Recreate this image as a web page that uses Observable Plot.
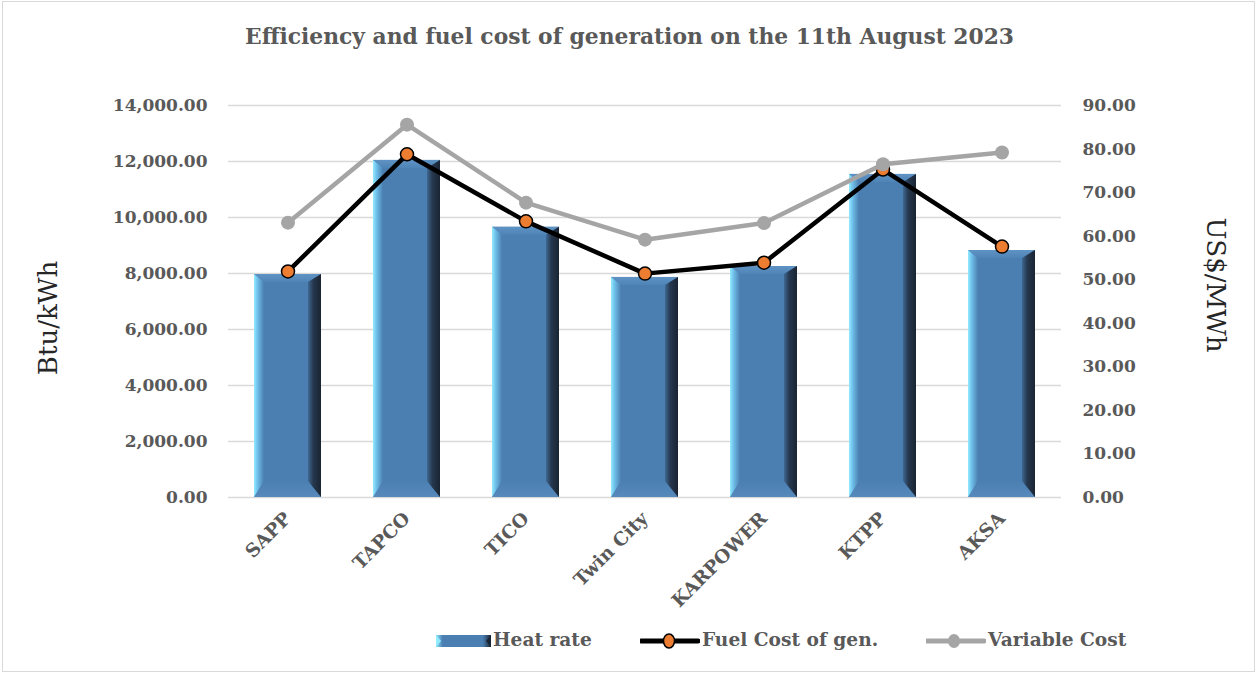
<!DOCTYPE html>
<html><head><meta charset="utf-8">
<script src="https://cdn.jsdelivr.net/npm/d3@7"></script>
<script src="https://cdn.jsdelivr.net/npm/@observablehq/plot@0.6"></script>
<style>
body{margin:0;background:#fff;}
#wrap{position:relative;width:1259px;height:677px;overflow:hidden;font-family:"DejaVu Serif",serif;background:#fff;}
#border{position:absolute;left:2px;top:1px;width:1251px;height:669px;border:1.5px solid #D9D9D9;}
#title{position:absolute;left:0;top:24px;width:1259px;text-align:center;font-weight:bold;font-size:21.8px;color:#595959;}
#chart{position:absolute;left:0;top:0;}
#ylab{position:absolute;left:48px;top:318px;transform:translate(-50%,-50%) rotate(-90deg);font-size:26px;color:#262626;white-space:nowrap;}
#y2lab{position:absolute;left:1216px;top:285px;transform:translate(-50%,-50%) rotate(90deg);font-size:26px;color:#262626;white-space:nowrap;}
.leg{position:absolute;top:629px;font-weight:bold;font-size:18.6px;color:#595959;white-space:nowrap;}
.sw{position:absolute;}
</style></head><body>
<div id="wrap">
  <div id="border"></div>
  <div id="title">Efficiency and fuel cost of generation on the 11th August 2023</div>
  <div id="chart"></div>
  <div id="ylab">Btu/kWh</div>
  <div id="y2lab">US$/MWh</div>
  <svg class="sw" style="left:436px;top:634px" width="56" height="14">
    <defs>
      <linearGradient id="lgH" x1="0" x2="1" y1="0" y2="0">
        <stop offset="0" stop-color="#8DE9FF"/><stop offset="0.12" stop-color="#4B7FB2"/>
        <stop offset="0.85" stop-color="#4B7FB2"/><stop offset="1" stop-color="#1B2636"/>
      </linearGradient>
    </defs>
    <rect x="0" y="1" width="55" height="12" fill="url(#lgH)"/>
    <polygon points="0,1 5,7 0,13" fill="#92ECFF"/>
    <polygon points="55,1 50,7 55,13" fill="#1A2432"/>
  </svg>
  <div class="leg" style="left:493px">Heat rate</div>
  <svg class="sw" style="left:640px;top:631px" width="60" height="20">
    <line x1="1" x2="58" y1="10" y2="10" stroke="#000" stroke-width="5" stroke-linecap="round"/>
    <ellipse cx="29" cy="10" rx="5.5" ry="7" fill="#ED7D31" stroke="#000" stroke-width="1.5"/>
  </svg>
  <div class="leg" style="left:702px">Fuel Cost of gen.</div>
  <svg class="sw" style="left:926px;top:631px" width="60" height="20">
    <line x1="1" x2="58" y1="10" y2="10" stroke="#A5A5A5" stroke-width="5" stroke-linecap="round"/>
    <ellipse cx="28" cy="10" rx="6" ry="7" fill="#A5A5A5"/>
  </svg>
  <div class="leg" style="left:988px">Variable Cost</div>
</div>
<script>
const plants = ["SAPP", "TAPCO", "TICO", "Twin City", "KARPOWER", "KTPP", "AKSA"];
const heatRate = [7960, 12040, 9650, 7860, 8250, 11540, 8820];
const fuelCost = [51.9, 78.8, 63.4, 51.4, 53.9, 75.3, 57.6];
const variableCost = [63.1, 85.6, 67.7, 59.2, 63.0, 76.5, 79.2];
const leftTicks = [0, 2000, 4000, 6000, 8000, 10000, 12000, 14000];
const rightTicks = [0, 10, 20, 30, 40, 50, 60, 70, 80, 90];
const leftMax = 14000, rightMax = 90;
const k = leftMax / rightMax;

const rows = plants.map((p, i) => ({plant: p, heat: heatRate[i], fuel: fuelCost[i], variable: variableCost[i]}));

function bevelRender(index, scales, values, dimensions, context, next) {
  const g = next(index, scales, values, dimensions, context);
  const rects = Array.from(g.querySelectorAll("rect"));
  const out = d3.create("svg:g");
  const defs = out.append("defs");
  const grad = (id, x2, y2, stops) => {
    const lg = defs.append("linearGradient").attr("id", id).attr("x1", 0).attr("y1", 0).attr("x2", x2).attr("y2", y2);
    stops.forEach(([o, c]) => lg.append("stop").attr("offset", o).attr("stop-color", c));
  };
  grad("bvL", 1, 0, [[0, "#92ECFF"], [0.35, "#6FC0EA"], [1, "#4B7FB2"]]);
  grad("bvR", 1, 0, [[0, "#3E6892"], [0.4, "#26384F"], [1, "#1A2432"]]);
  grad("bvT", 0, 1, [[0, "#5F93C4"], [1, "#4F84B7"]]);
  grad("bvB", 0, 1, [[0, "#4B7FB2"], [1, "#5789BB"]]);
  const bl = 10, br = 13, bt = 8, bb = 16;
  for (const r of rects) {
    const x = +r.getAttribute("x"), y = +r.getAttribute("y");
    const w = +r.getAttribute("width"), h = +r.getAttribute("height");
    const bar = out.append("g");
    bar.append("rect").attr("x", x).attr("y", y).attr("width", w).attr("height", h).attr("fill", "#4B7FB2");
    const poly = (pts, fill) => bar.append("polygon").attr("points", pts.map(p => p.join(",")).join(" ")).attr("fill", fill);
    poly([[x, y], [x + w, y], [x + w - br, y + bt], [x + bl, y + bt]], "url(#bvT)");
    poly([[x, y + h], [x + bl, y + h - bb], [x + w - br, y + h - bb], [x + w, y + h]], "url(#bvB)");
    poly([[x, y], [x + bl, y + bt], [x + bl, y + h - bb], [x, y + h]], "url(#bvL)");
    poly([[x + w, y], [x + w - br, y + bt], [x + w - br, y + h - bb], [x + w, y + h]], "url(#bvR)");
  }
  return out.node();
}

const chart = Plot.plot({
  width: 1259,
  height: 620,
  marginTop: 105,
  marginBottom: 123,
  marginLeft: 228,
  marginRight: 198,
  style: {fontFamily: "DejaVu Serif", fontSize: "17px", fontWeight: "bold", color: "#595959", background: "transparent"},
  x: {domain: plants, paddingInner: 0.44, paddingOuter: 0.22, label: null},
  y: {domain: [0, leftMax], label: null},
  marks: [
    Plot.gridY(leftTicks, {stroke: "#D9D9D9", strokeOpacity: 1, strokeWidth: 1.5}),
    Plot.barY(rows, {x: "plant", y: "heat", fill: "#4B7FB2", render: bevelRender}),
    Plot.axisY(leftTicks, {anchor: "left", tickSize: 0, tickPadding: 21, tickFormat: d => d3.format(",.2f")(d), label: null, fill: "#595959"}),
    Plot.axisY(rightTicks.map(v => v * k), {anchor: "right", tickSize: 0, tickPadding: 21, tickFormat: d => (d / k).toFixed(2), label: null, fill: "#595959"}),
    Plot.axisX(plants, {anchor: "bottom", tickSize: 0, tickPadding: 18, tickRotate: -45, label: null, fontSize: 18.5, fill: "#595959"}),
    Plot.line(rows, {x: "plant", y: d => d.fuel * k, stroke: "#000", strokeWidth: 4.5, strokeLinejoin: "round", strokeLinecap: "round"}),
    Plot.dot(rows, {x: "plant", y: d => d.fuel * k, r: 6.5, fill: "#ED7D31", stroke: "#000", strokeWidth: 1.5}),
    Plot.line(rows, {x: "plant", y: d => d.variable * k, stroke: "#A5A5A5", strokeWidth: 4.5, strokeLinejoin: "round", strokeLinecap: "round"}),
    Plot.dot(rows, {x: "plant", y: d => d.variable * k, r: 7, fill: "#A5A5A5"})
  ]
});
document.getElementById("chart").appendChild(chart);
</script>
</body></html>
